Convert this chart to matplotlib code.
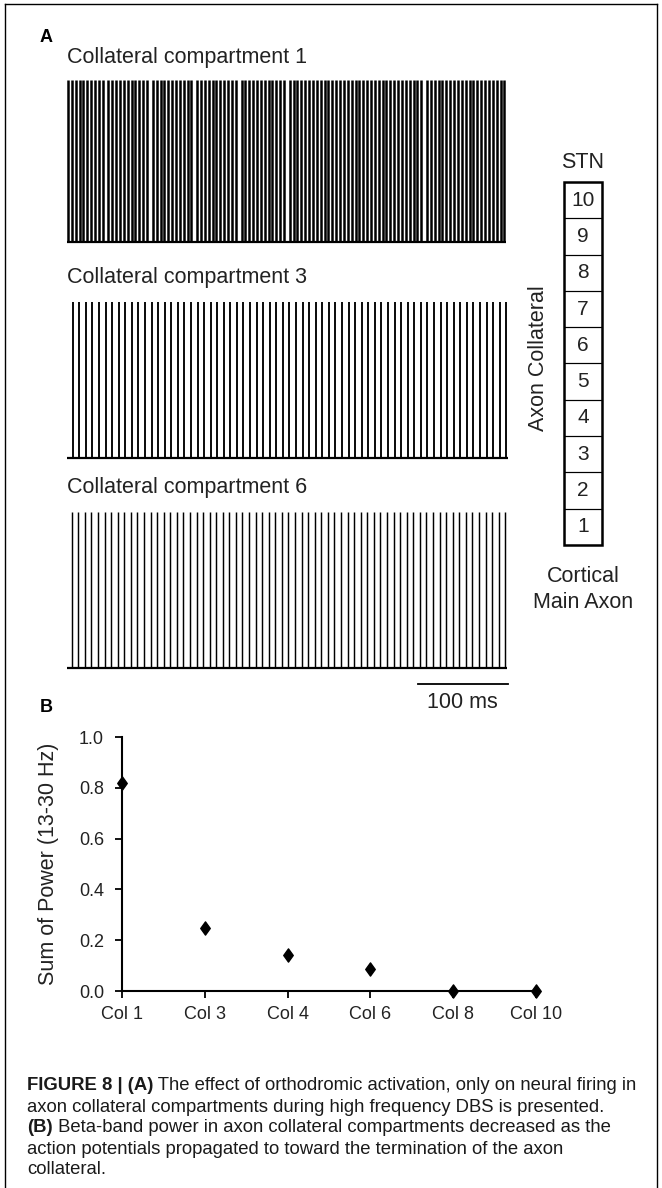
import matplotlib

matplotlib.use("Agg")
import matplotlib.pyplot as plt  # noqa: E402
from matplotlib import font_manager  # noqa: E402
from matplotlib.lines import Line2D  # noqa: E402
from matplotlib.patches import Rectangle  # noqa: E402
from matplotlib.path import Path  # noqa: E402

W, H = 662, 1188

# spike times (ms)
comp1_spikes = [
    1.0, 5.3, 9.6, 13.9, 18.2, 22.5, 26.8, 31.1, 35.4, 39.7,
    46.0, 50.3, 54.6, 58.9, 63.2, 67.5, 71.8, 76.1, 80.4, 84.7, 89.0,
    95.3, 99.6, 103.9, 108.2, 112.5, 116.8, 121.1, 125.4, 129.7, 134.0, 138.3,
    144.6, 148.9, 153.2, 157.5, 161.8, 166.1, 170.4, 174.7, 179.0, 183.3, 187.6,
    193.9, 198.2, 202.5, 206.8, 211.1, 215.4, 219.7, 224.0, 228.3, 232.6, 236.9, 241.2,
    247.5, 251.8, 256.1, 260.4, 264.7, 269.0, 273.3, 277.6, 281.9, 286.2, 290.5,
    294.8, 299.1, 303.4, 307.7, 312.0, 316.3, 320.6, 324.9, 329.2, 333.5, 337.8,
    342.1, 346.4, 350.7, 355.0, 359.3, 363.6, 367.9, 372.2, 376.5, 380.8, 385.1,
    389.4, 393.7,
    400.0, 404.3, 408.6, 412.9, 417.2, 421.5, 425.8, 430.1, 434.4, 438.7, 443.0,
    447.3, 451.6, 455.9, 460.2, 464.5, 468.8, 473.1, 477.4, 481.7, 486.0,
]
comp3_spikes = [
    6.3, 13.6, 20.9, 28.2, 35.5, 42.8, 50.1, 57.4, 64.7, 72.0, 79.3, 86.6,
    93.9, 101.2, 108.5, 115.8, 123.1, 130.4, 137.7, 145.0, 152.3, 159.6,
    166.9, 174.2, 181.5, 188.8, 196.1, 203.4, 210.7, 218.0, 225.3, 232.6,
    239.9, 247.2, 254.5, 261.8, 269.1, 276.4, 283.7, 291.0, 298.3, 305.6,
    312.9, 320.2, 327.5, 334.8, 342.1, 349.4, 356.7, 364.0, 371.3, 378.6,
    385.9, 393.2, 400.5, 407.8, 415.1, 422.4, 429.7, 437.0, 444.3, 451.6,
    458.9, 466.2, 473.5, 480.8, 488.1,
]
comp6_spikes = [
    5.2, 12.5, 19.8, 27.1, 34.4, 41.7, 49.0, 56.3, 63.6, 70.9, 78.2, 85.5,
    92.8, 100.1, 107.4, 114.7, 122.0, 129.3, 136.6, 143.9, 151.2, 158.5,
    165.8, 173.1, 180.4, 187.7, 195.0, 202.3, 209.6, 216.9, 224.2, 231.5,
    238.8, 246.1, 253.4, 260.7, 268.0, 275.3, 282.6, 289.9, 297.2, 304.5,
    311.8, 319.1, 326.4, 333.7, 341.0, 348.3, 355.6, 362.9, 370.2, 377.5,
    384.8, 392.1, 399.4, 406.7, 414.0, 421.3, 428.6, 435.9, 443.2, 450.5,
    457.8, 465.1, 472.4, 479.7, 487.0,
]
raster_titles = ["Collateral compartment 1", "Collateral compartment 3",
                 "Collateral compartment 6"]
raster_lw = [1.8, 1.35, 1.05]
compartment_numbers = [1, 2, 3, 4, 5, 6, 7, 8, 9, 10]

col_labels = ["Col 1", "Col 3", "Col 4", "Col 6", "Col 8", "Col 10"]
beta_power = [0.82, 0.25, 0.14, 0.085, 0.0, 0.0]
power_ticks = [0.0, 0.2, 0.4, 0.6, 0.8, 1.0]

caption = [
    [("FIGURE 8 | (A)", "bold"),
     (" The effect of orthodromic activation, only on neural firing in", "normal")],
    [("axon collateral compartments during high frequency DBS is presented.", "normal")],
    [("(B)", "bold"),
     (" Beta-band power in axon collateral compartments decreased as the", "normal")],
    [("action potentials propagated to toward the termination of the axon", "normal")],
    [("collateral.", "normal")],
]


def px_rect(x0, y0, x1, y1):
    return [x0 / W, 1 - y1 / H, (x1 - x0) / W, (y1 - y0) / H]


def px(x, y):
    return x / W, 1 - y / H


def has_font(name):
    try:
        font_manager.findfont(name, fallback_to_default=False)
        return True
    except ValueError:
        return False


plt.rcParams["font.family"] = ["Liberation Sans", "DejaVu Sans"]
narrow = has_font("Liberation Sans Narrow")
cap_family = ["Liberation Sans Narrow", "Liberation Sans"] if narrow else ["Liberation Sans"]
cap_size = 16.0 if narrow else 13.3

fig = plt.figure(figsize=(W / 100, H / 100), dpi=100)

# outer frame (left, top, right)
for xs, ys in [((5, 5), (4, H + 5)), ((5, 657), (4, 4)), ((657, 657), (4, H + 5))]:
    fig.add_artist(Line2D([x / W for x in xs], [1 - y / H for y in ys],
                          color="black", lw=1.0, transform=fig.transFigure))

# ---- Panel A: spike rasters
fig.text(*px(40, 37), "A", fontsize=13, fontweight="bold", va="center")
raster_boxes = [(80, 242), (302, 458), (512, 668)]
title_y = [57, 277, 487]
for spikes, title, (y0, y1), ty, lw in zip(
        [comp1_spikes, comp3_spikes, comp6_spikes], raster_titles,
        raster_boxes, title_y, raster_lw):
    ax = fig.add_axes(px_rect(67, y0, 508, y1))
    ax.vlines(spikes, 0, 1, color="black", lw=lw)
    ax.plot([0, max(spikes) + 1.5], [0, 0], color="black", lw=1.6,
            solid_capstyle="butt", clip_on=False)
    ax.set_xlim(0, 490)
    ax.set_ylim(0, 1)
    ax.axis("off")
    fig.text(*px(67, ty), title, fontsize=15.5, va="center", ha="left", color="#222")

# scale bar: 100 ms
ax = fig.axes[-1]
ax.plot([390, 490], [-0.1, -0.1], color="black", lw=1.3, clip_on=False)
fig.text(*px(462, 703), "100 ms", fontsize=15.5, ha="center", va="center", color="#222")

# compartment diagram
axd = fig.add_axes(px_rect(564, 182, 602, 545))
axd.set_xlim(0, 1)
axd.set_ylim(0, len(compartment_numbers))
for i, n in enumerate(compartment_numbers):
    axd.add_patch(Rectangle((0, i), 1, 1, fill=False, ec="black", lw=0.8))
    axd.text(0.5, i + 0.5, str(n), ha="center", va="center", fontsize=15, color="#222")
axd.add_patch(Rectangle((0, 0), 1, len(compartment_numbers), fill=False,
                        ec="black", lw=1.8, clip_on=False))
axd.axis("off")
fig.text(*px(583, 162), "STN", fontsize=15.5, ha="center", va="center", color="#222")
fig.text(*px(538, 358), "Axon Collateral", fontsize=15.5, rotation=90,
         ha="center", va="center", color="#222")
fig.text(*px(583, 577), "Cortical", fontsize=15.5, ha="center", va="center", color="#222")
fig.text(*px(583, 602), "Main Axon", fontsize=15.5, ha="center", va="center", color="#222")

# ---- Panel B: beta-band power
fig.text(*px(40, 708), "B", fontsize=13, fontweight="bold", va="center")
axb = fig.add_axes(px_rect(122, 737, 540, 991))
diamond = Path([(0, 1), (0.72, 0), (0, -1), (-0.72, 0), (0, 1)],
               [Path.MOVETO, Path.LINETO, Path.LINETO, Path.LINETO, Path.CLOSEPOLY])
axb.plot(range(len(col_labels)), beta_power, linestyle="none", marker=diamond,
         ms=9.5, color="black", clip_on=False, zorder=5)
axb.set_xlim(0, 5.05)
axb.set_ylim(0, 1.0)
axb.set_xticks(range(len(col_labels)))
axb.set_xticklabels(col_labels)
axb.set_yticks(power_ticks)
axb.set_yticklabels([f"{v:.1f}" for v in power_ticks])
for s in ("top", "right"):
    axb.spines[s].set_visible(False)
for s in ("left", "bottom"):
    axb.spines[s].set_linewidth(1.5)
axb.tick_params(axis="both", labelsize=13, colors="black", labelcolor="#222",
                width=1.3, length=5, direction="out")
axb.tick_params(axis="y", pad=8)
axb.tick_params(axis="x", pad=6)
axb.set_ylabel("Sum of Power (13-30 Hz)", fontsize=15.5, color="#222", labelpad=14)

# ---- caption
renderer = fig.canvas.get_renderer()
cap_y = [1085, 1107, 1128, 1149, 1170]
for parts, y in zip(caption, cap_y):
    x = 27 / W
    for text, weight in parts:
        t = fig.text(x, 1 - y / H, text, fontsize=cap_size, fontweight=weight,
                     family=cap_family, va="center", ha="left", color="#1a1a1a")
        x = t.get_window_extent(renderer).x1 / fig.bbox.width

fig.savefig("out.png", dpi=100)
